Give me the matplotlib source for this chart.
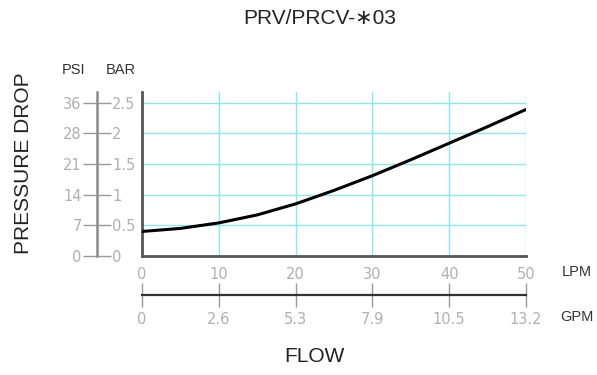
import matplotlib
matplotlib.use("Agg")
import matplotlib.pyplot as plt

# flow (LPM) vs pressure drop (bar)
flow_lpm = [0, 5, 10, 15, 20, 25, 30, 35, 40, 45, 50]
drop_bar = [0.40, 0.45, 0.54, 0.67, 0.85, 1.07, 1.31, 1.57, 1.84, 2.11, 2.39]

lpm_ticks = [0, 10, 20, 30, 40, 50]
gpm_labels = ["0", "2.6", "5.3", "7.9", "10.5", "13.2"]
bar_ticks = [0, 0.5, 1, 1.5, 2, 2.5]
bar_labels = ["0", "0.5", "1", "1.5", "2", "2.5"]
psi_labels = ["0", "7", "14", "21", "28", "36"]

W, H = 597, 375
GRID = "#86eaf0"
TICKC = "#b0b0b0"
DARK = "#222222"
YTOP = 2.675


def fx(px):
    return px / W


def fy(py):
    return 1 - py / H


fig = plt.figure(figsize=(W / 100, H / 100), dpi=100)
plt.rcParams["font.family"] = ["Liberation Sans", "DejaVu Sans"]

left, right, top, bot = 142, 526, 92, 256

# main plot
ax = fig.add_axes([fx(left), fy(bot), (right - left) / W, (bot - top) / H])
ax.plot(flow_lpm, drop_bar, color="black", lw=2.2, zorder=3)
ax.set_xlim(0, 50)
ax.set_ylim(0, YTOP)
ax.set_xticks(lpm_ticks)
ax.set_xticklabels([str(v) for v in lpm_ticks], family="DejaVu Sans",
                   fontsize=10.5, color=TICKC)
ax.set_yticks(bar_ticks)
ax.tick_params(axis="x", length=0, pad=8)
ax.tick_params(axis="y", length=0, labelleft=False)
ax.grid(color=GRID, lw=1.0)
for s in ("top", "right"):
    ax.spines[s].set_visible(False)
for s in ("left", "bottom"):
    ax.spines[s].set_color("#555555")
    ax.spines[s].set_linewidth(2)
ax.set_axisbelow(True)

# PSI / BAR scale
axb = fig.add_axes([fx(97), fy(bot), 0.0001, (bot - top) / H])
axb.set_ylim(0, YTOP)
axb.set_xticks([])
for s in ("top", "right", "bottom"):
    axb.spines[s].set_visible(False)
axb.spines["left"].set_color("#8a8a8a")
axb.spines["left"].set_linewidth(1.8)
axb.set_yticks(bar_ticks)
axb.set_yticklabels(psi_labels, family="DejaVu Sans", fontsize=10.5, color=TICKC)
axb.tick_params(axis="y", length=10, width=1, color="#999999", pad=1)

axr = axb.twinx()
axr.set_ylim(0, YTOP)
for s in axr.spines.values():
    s.set_visible(False)
axr.set_yticks(bar_ticks)
axr.set_yticklabels(bar_labels, family="DejaVu Sans", fontsize=10.5, color=TICKC)
axr.tick_params(axis="y", length=10, width=1, color="#999999", pad=1)

# GPM scale
axg = fig.add_axes([fx(left), fy(295), (right - left) / W, 0.0001])
axg.set_xlim(0, 50)
axg.set_yticks([])
for s in ("top", "right", "left"):
    axg.spines[s].set_visible(False)
axg.spines["bottom"].set_color("#333333")
axg.spines["bottom"].set_linewidth(1.6)
axg.set_xticks(lpm_ticks)
axg.set_xticklabels(gpm_labels, family="DejaVu Sans", fontsize=10.5, color=TICKC)
axg.tick_params(axis="x", direction="inout", length=17, width=1,
                color="#999999", pad=4)

# texts
fig.text(fx(320), fy(19), "PRV/PRCV-\u220703".replace("\u2207", "\u2217"),
         ha="center", va="center", fontsize=15, color=DARK)
fig.text(fx(314), fy(356), "FLOW", ha="center", va="center",
         fontsize=15, color=DARK)
fig.text(fx(24), fy(163), "PRESSURE DROP", ha="center", va="center",
         rotation=90, fontsize=15, color=DARK)
fig.text(fx(74), fy(70), "PSI", ha="center", va="center", fontsize=10.5, color="#333333")
fig.text(fx(121), fy(70), "BAR", ha="center", va="center", fontsize=10.5, color="#333333")
fig.text(fx(577), fy(272), "LPM", ha="center", va="center", fontsize=10.5, color="#333333")
fig.text(fx(577), fy(317), "GPM", ha="center", va="center", fontsize=10.5, color="#333333")

fig.savefig("out.png", dpi=100)
